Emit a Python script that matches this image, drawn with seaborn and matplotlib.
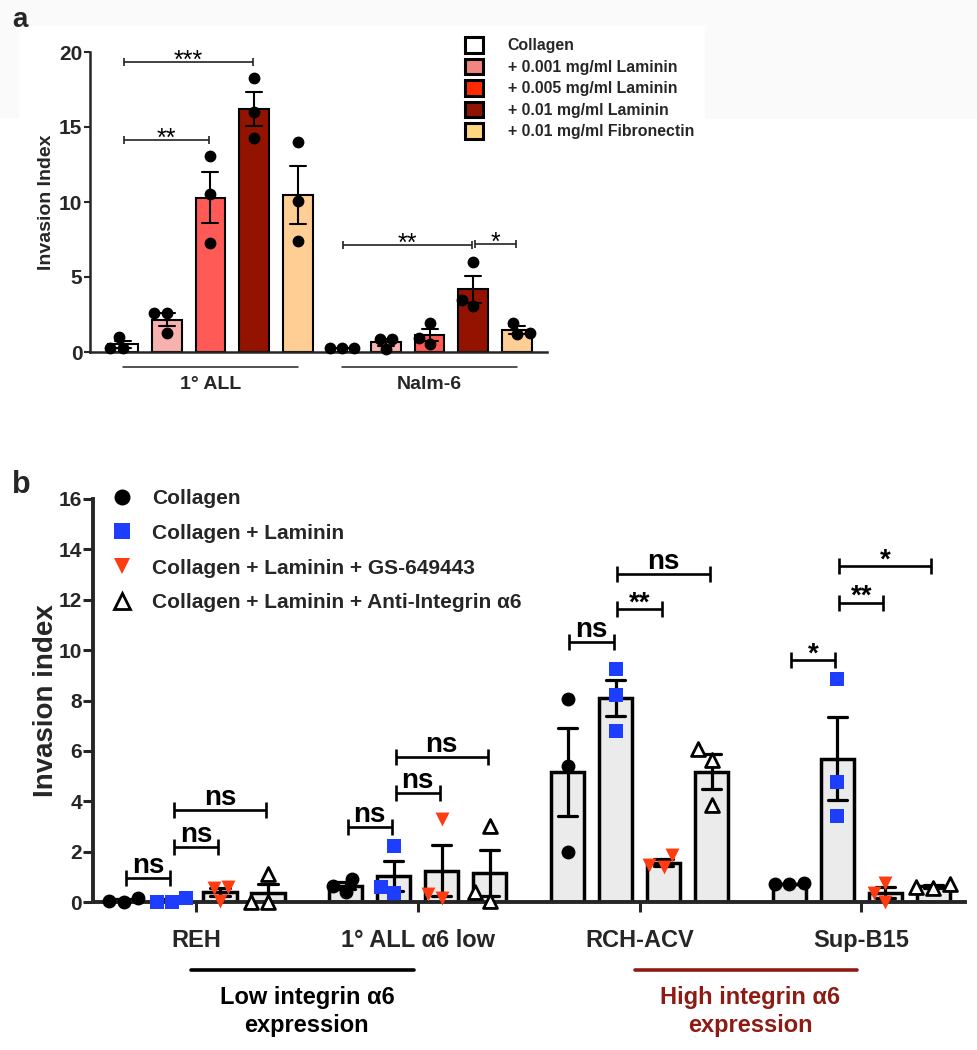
"""
Figura de invasão: (a) laminina/fibronectina, (b) integrina alfa6
"""

import numpy as np
import pandas as pd
import matplotlib
matplotlib.use('Agg')
import matplotlib.pyplot as plt
import matplotlib.transforms as mtransforms
from matplotlib.lines import Line2D
from matplotlib.patches import Patch, Rectangle
import seaborn as sns

sns.set_style('ticks')
plt.rcParams['font.family'] = ['Liberation Sans', 'DejaVu Sans']
plt.rcParams['font.weight'] = 'bold'
plt.rcParams['axes.labelweight'] = 'bold'

# ---------------- dados painel a ----------------
groups_a = ['1° ALL', 'Nalm-6']
conds_a = ['Collagen', '+ 0.001 mg/ml Laminin', '+ 0.005 mg/ml Laminin',
           '+ 0.01 mg/ml Laminin', '+ 0.01 mg/ml Fibronectin']
all_a = [[1.0, 0.3, 0.25], [2.6, 2.6, 1.3], [13.1, 10.55, 7.25],
         [18.3, 16.0, 14.3], [14.0, 10.05, 7.4]]
nalm_a = [[0.3, 0.25, 0.25], [0.9, 0.2, 0.9], [1.95, 0.95, 0.55],
          [6.0, 3.45, 3.1], [1.95, 1.25, 1.2]]
colors_a = ['white', '#F7B1AE', '#FF5A55', '#931200', '#FFCE95']
legend_colors_a = ['white', '#F28580', '#FF2B00', '#8E1400', '#FFD680']
yticks_a = [0, 5, 10, 15, 20]
# (barra inicial, barra final, altura, texto)
brackets_a = [(0, 3, 19.33, '***'), (0, 2, 14.16, '**'),
              (5, 8, 7.16, '**'), (8, 9, 7.22, '*')]

# ---------------- dados painel b ----------------
groups_b = ['REH', '1° ALL α6 low', 'RCH-ACV', 'Sup-B15']
conds_b = ['Collagen', 'Collagen + Laminin', 'Collagen + Laminin + GS-649443',
           'Collagen + Laminin + Anti-Integrin α6']
reh_b = [[0.15, 0.02, 0.0], [0.15, 0.0, 0.0], [0.6, 0.55, 0.05], [1.1, 0.0, 0.0]]
low_b = [[0.9, 0.65, 0.4], [2.22, 0.58, 0.34], [3.3, 0.3, 0.15], [3.0, 0.4, 0.05]]
rch_b = [[8.06, 5.41, 2.0], [9.27, 8.21, 6.79], [1.85, 1.4, 1.45], [6.06, 5.63, 3.85]]
sup_b = [[0.75, 0.7, 0.7], [8.87, 4.78, 3.41], [0.75, 0.35, 0.0], [0.7, 0.6, 0.55]]
markers_b = ['o', 's', 'v', '^']
colors_b = ['black', '#1E3EFF', '#FF3B12', 'white']
yticks_b = list(range(0, 17, 2))
# (grupo, condição inicial, condição final, altura, texto)
brackets_b = [(0, 0, 1, 0.94, 'ns'), (0, 1, 2, 2.19, 'ns'), (0, 1, 3, 3.65, 'ns'),
              (1, 0, 1, 2.99, 'ns'), (1, 1, 2, 4.31, 'ns'), (1, 1, 3, 5.77, 'ns'),
              (2, 0, 1, 10.33, 'ns'), (2, 1, 2, 11.63, '**'), (2, 1, 3, 13.04, 'ns'),
              (3, 0, 1, 9.6, '*'), (3, 1, 2, 11.89, '**'), (3, 1, 3, 13.33, '*')]
bands_b = [(0, 1, ['Low integrin α6', 'expression'], 'black'),
           (2, 3, ['High integrin α6', 'expression'], '#8E1B12')]

GROUP_STEP = 4.62


def make_df_a():
    rows = []
    for gi, block in enumerate([all_a, nalm_a]):
        for ci, vals in enumerate(block):
            for v in vals:
                rows.append({'group': groups_a[gi], 'cond': conds_a[ci],
                             'pos': gi * len(conds_a) + ci, 'value': v})
    return pd.DataFrame(rows)


def make_df_b():
    rows = []
    for gi, block in enumerate([reh_b, low_b, rch_b, sup_b]):
        for ci, vals in enumerate(block):
            for v in vals:
                rows.append({'group': groups_b[gi], 'cond': conds_b[ci],
                             'pos': gi * GROUP_STEP + ci - 1.5, 'value': v})
    return pd.DataFrame(rows)


def draw_bracket(ax, x1, x2, y, text, lw, ms, fs, dy, weight, color='black'):
    ax.plot([x1, x2], [y, y], color=color, lw=lw, solid_capstyle='butt', clip_on=False)
    ax.plot([x1, x2], [y, y], ls='none', marker='|', ms=ms, mew=lw, color=color, clip_on=False)
    ax.annotate(text, xy=((x1 + x2) / 2, y), xytext=(0, dy), textcoords='offset points',
                ha='center', va='baseline', fontsize=fs, fontweight=weight, color='black')


fig = plt.figure(figsize=(9.78, 10.5), dpi=100)
W, H = 978, 1050

# fundo levemente cinza do recorte original
for (x0, y0, w, h) in [(0, 0, 978, 25), (705, 25, 273, 93), (0, 25, 18, 92)]:
    fig.patches.append(Rectangle((x0 / W, 1 - (y0 + h) / H), w / W, h / H,
                                 transform=fig.transFigure, color='#FAFAFA', zorder=-5))

# ================= painel a =================
ax_a = fig.add_axes([90 / W, 1 - 352 / H, 457 / W, 300 / H])
ax_a.set_facecolor('none')
df_a = make_df_a()
sns.barplot(data=df_a, x='pos', y='value', hue='cond', hue_order=conds_a,
            palette=colors_a, saturation=1, native_scale=True, dodge=False,
            width=0.68, errorbar='se', capsize=0.365,
            err_kws={'color': 'black', 'linewidth': 1.5},
            edgecolor='black', linewidth=1.5, legend=False, ax=ax_a)
sns.swarmplot(data=df_a, x='pos', y='value', native_scale=True, color='black',
              size=8.5, zorder=3, clip_on=False, ax=ax_a)

ax_a.set_xlim(-0.75, 9.68)
ax_a.set_ylim(0, 20)
ax_a.set_yticks(yticks_a)
ax_a.set_xticks([])
ax_a.set_xlabel('')
ax_a.set_ylabel('Invasion Index', fontsize=14, labelpad=3)
ax_a.tick_params(axis='y', labelsize=15, length=4, width=1.5, pad=1.5)
for s in ['left', 'bottom']:
    ax_a.spines[s].set_linewidth(1.8)
sns.despine(ax=ax_a)

for (i1, i2, y, t) in brackets_a:
    draw_bracket(ax_a, i1 + 0.03, i2 - 0.03, y, t, lw=1.2, ms=6, fs=18, dy=-4.5,
                 weight='normal', color='#222222')

trans_a = mtransforms.blended_transform_factory(ax_a.transData, ax_a.transAxes)
for gi, g in enumerate(groups_a):
    x1 = gi * len(conds_a)
    x2 = x1 + len(conds_a) - 1
    ax_a.plot([x1, x2], [-0.05, -0.05], transform=trans_a, color='#222222', lw=1.1, clip_on=False)
    ax_a.text((x1 + x2) / 2, -0.122, g, transform=trans_a, ha='center', va='baseline',
              fontsize=14, fontweight='bold')

handles_a = [Patch(facecolor=c, edgecolor='black', linewidth=2.2) for c in legend_colors_a]
ax_a.legend(handles_a, conds_a, loc='upper left', bbox_to_anchor=(0.8206, 1.05),
            frameon=False, prop={'size': 11.4, 'weight': 'bold'}, handlelength=1.14,
            handleheight=1.14, handletextpad=1.55, labelspacing=0.34,
            borderpad=0, borderaxespad=0)

# ================= painel b =================
ax_b = fig.add_axes([93 / W, 1 - 902 / H, 872 / W, 403 / H])
ax_b.set_facecolor('none')
df_b = make_df_b()
sns.barplot(data=df_b, x='pos', y='value', native_scale=True, color='#EBEBEB',
            saturation=1, width=0.69, errorbar='se', capsize=0.4,
            err_kws={'color': 'black', 'linewidth': 2.3},
            edgecolor='black', linewidth=2.5, ax=ax_b)
for ci, cond in enumerate(conds_b):
    sub = df_b[df_b['cond'] == cond]
    kw = dict(marker=markers_b[ci], color=colors_b[ci], size=10, zorder=3, clip_on=False)
    if colors_b[ci] == 'white':
        kw.update(edgecolor='black', linewidth=2)
    sns.swarmplot(data=sub, x='pos', y='value', native_scale=True, ax=ax_b, **kw)

ax_b.set_xlim(-2.146, 16.02)
ax_b.set_ylim(0, 16)
ax_b.set_yticks(yticks_b)
ax_b.set_xticks([gi * GROUP_STEP for gi in range(len(groups_b))])
ax_b.set_xticklabels(groups_b)
ax_b.set_xlabel('')
ax_b.set_ylabel('Invasion index', fontsize=20, labelpad=0)
ax_b.tick_params(axis='y', labelsize=15, length=7, width=2.2, pad=1)
ax_b.tick_params(axis='x', labelsize=17, length=7, width=2.2, pad=12.5)
for s in ['left', 'bottom']:
    ax_b.spines[s].set_linewidth(2.8)
sns.despine(ax=ax_b)

for (g, c1, c2, y, t) in brackets_b:
    x1 = g * GROUP_STEP + c1 - 1.5
    x2 = g * GROUP_STEP + c2 - 1.5
    dy = 3.6 if t == 'ns' else -1
    draw_bracket(ax_b, x1 + 0.04, x2 - 0.04, y, t, lw=1.9, ms=11, fs=20, dy=dy, weight='bold')

trans_b = mtransforms.blended_transform_factory(ax_b.transData, ax_b.transAxes)
for (g1, g2, lines, col) in bands_b:
    x1 = g1 * GROUP_STEP - 0.1
    x2 = g2 * GROUP_STEP - 0.08
    ax_b.plot([x1, x2], [-0.1687, -0.1687], transform=trans_b, color=col, lw=2.6,
              solid_capstyle='round', clip_on=False)
    xm = (g1 + g2) * GROUP_STEP / 2
    for k, txt in enumerate(lines):
        ax_b.text(xm, [-0.253, -0.3226][k], txt, transform=trans_b, ha='center',
                  va='baseline', fontsize=17, fontweight='bold', color=col)

handles_b = []
for ci in range(len(conds_b)):
    fc = colors_b[ci]
    ec = 'black' if fc == 'white' else fc
    handles_b.append(Line2D([], [], ls='none', marker=markers_b[ci], markersize=11.5,
                            markerfacecolor=fc, markeredgecolor=ec,
                            markeredgewidth=2 if fc == 'white' else 0))
ax_b.legend(handles_b, conds_b, loc='upper left', bbox_to_anchor=(0.021, 1.025),
            frameon=False, prop={'size': 15, 'weight': 'bold'}, handlelength=1,
            handletextpad=0.94, labelspacing=0.76, borderpad=0, borderaxespad=0)

fig.text(12 / W, 1 - 27 / H, 'a', fontsize=20, fontweight='bold', va='baseline')
fig.text(12 / W, 1 - 493 / H, 'b', fontsize=22, fontweight='bold', va='baseline')

fig.savefig('out.png', dpi=100)
